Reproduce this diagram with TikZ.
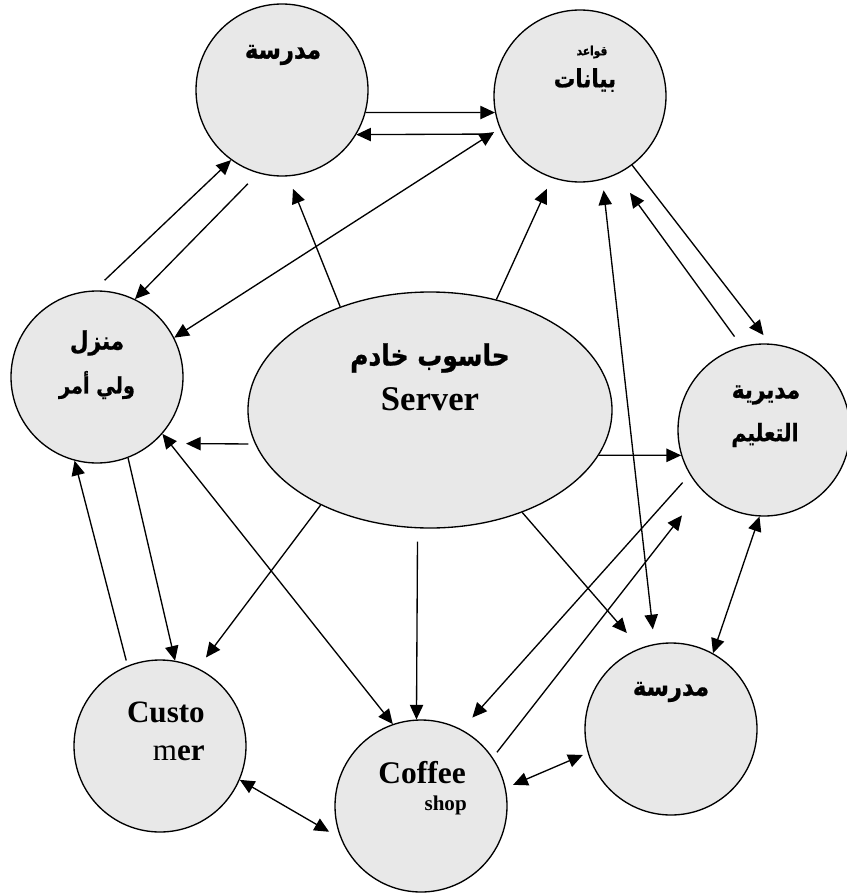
\documentclass[tikz,border=0pt]{standalone}
\usepackage{fontspec}
\setmainfont{Liberation Serif}
\newfontfamily\arabicfont[Script=Arabic, FakeStretch=0.85, BoldFeatures={FakeBold=0.8}]{DejaVu Sans}
\TeXXeTstate=1
\usetikzlibrary{arrows.meta,shapes.geometric}
\definecolor{bubblegray}{RGB}{232,232,232}

\tikzset{
  bubble/.style={circle, draw, line width=1pt, fill=bubblegray,
    minimum size=129pt, inner sep=0pt},
  hub/.style={ellipse, draw, line width=1pt, fill=bubblegray,
    minimum width=273pt, minimum height=177pt, inner sep=0pt},
  tip/.tip={Triangle[length=11pt,width=10pt]},
  arr/.style={line width=1pt, -tip},
  dbl/.style={line width=1pt, tip-tip},
  ar/.style={inner sep=0pt},
  lat/.style={inner sep=0pt},
}

\begin{document}
\begin{tikzpicture}[x=0.75pt, y=-0.75pt]
\useasboundingbox (0,0) rectangle (846,895);

% bubbles
\node[bubble] (tl)   at (282,90)  {};
\node[bubble] (db)   at (580,96)  {};
\node[bubble] (home) at (97,377)  {};
\node[hub]    (srv)  at (430,410) {};
\node[bubble] (edu)  at (764,430) {};
\node[bubble] (cust) at (160,746) {};
\node[bubble] (cof)  at (421,806) {};
\node[bubble] (br)   at (671,729) {};

% labels
\node[ar, font=\arabicfont\bfseries\fontsize{20}{24}\selectfont] (tlA) at (283,55) {\beginR مدرسة\endR};
\node[ar, font=\arabicfont\bfseries\fontsize{9.4}{11}\selectfont] (dbA) at (592,52) {\beginR قواعد\endR};
\node[ar, font=\arabicfont\bfseries\fontsize{18.9}{22}\selectfont] (dbB) at (585,80) {\beginR بيانات\endR};
\node[ar, font=\arabicfont\bfseries\fontsize{19}{23}\selectfont] (homeA) at (97,343) {\beginR منزل\endR};
\node[ar, font=\arabicfont\bfseries\fontsize{17}{21}\selectfont] (homeB) at (97,385) {\beginR ولي أمر\endR};
\node[ar, font=\arabicfont\bfseries\fontsize{22}{26}\selectfont] (srvA) at (430,358) {\beginR حاسوب خادم\endR};
\node[lat, font=\bfseries\fontsize{26}{30}\selectfont, anchor=base] (srvB) at (430,410) {Server};
\node[ar, font=\arabicfont\bfseries\fontsize{19}{23}\selectfont] (eduA) at (766,395) {\beginR مديرية\endR};
\node[ar, font=\arabicfont\bfseries\fontsize{18}{22}\selectfont] (eduB) at (765,435) {\beginR التعليم\endR};
\node[lat, font=\bfseries\fontsize{23.3}{27}\selectfont, anchor=base east] (custA) at (205,722) {Custo};
\node[lat, font=\fontsize{23.3}{27}\selectfont, anchor=base east] (custB) at (205,760) {m\textbf{er}};
\node[lat, font=\bfseries\fontsize{23.6}{27}\selectfont, anchor=base east] (cofA) at (466,783) {Coffee};
\node[lat, font=\bfseries\fontsize{15.8}{19}\selectfont, anchor=base east] (cofB) at (467,810) {shop};
\node[ar, font=\arabicfont\bfseries\fontsize{20}{24}\selectfont] (brA) at (671,692) {\beginR مدرسة\endR};

% connectors around the upper school and the database
\draw[arr] (tl.-15) -- (db.191);
\draw[arr, shorten <=7pt] (db.206) -- (tl.-31);
\draw[dbl, shorten >=5pt] (home.27) -- (db.202);
\draw[arr, shorten <=11pt] (home.92) -- (tl.234);
\draw[arr, shorten <=11pt] (tl.254) -- (home.64);

% connectors leaving the server
\draw[arr, shorten >=10pt] (srv.131) -- (tl.-86);
\draw[arr, shorten >=9pt] (srv.59) -- (db.251);
\draw[arr, shorten <=5pt, shorten >=25pt] (srv.191) -- (home.-50);
\draw[arr, shorten >=10pt] (srv.221) -- (cust.64);
\draw[arr, shorten <=10pt] (srv.264) -- (cof.93);
\draw[arr, shorten >=15pt] (srv.-48) -- (br.111);
\draw[arr] (srv.-15) -- (edu.197);

% connectors on the right side
\draw[arr, shorten >=8pt] (db.-53) -- (edu.86);
\draw[arr, shorten <=9pt, shorten >=17pt] (edu.105) -- (db.-65);
\draw[dbl, shorten <=8pt, shorten >=11pt] (db.-75) -- (br.101);
\draw[dbl] (edu.267) -- (br.61);
\draw[arr, shorten <=8pt, shorten >=12pt] (edu.211) -- (cof.62);
\draw[arr, shorten <=5pt, shorten >=24pt] (cof.34) -- (edu.224);
\draw[dbl, shorten <=6pt, shorten >=4pt] (cof.12) -- (br.196);

% connectors on the left side
\draw[dbl] (home.-41) -- (cof.109);
\draw[dbl, shorten >=10pt] (cust.-23) -- (cof.202);
\draw[arr] (home.-69) -- (cust.80);
\draw[arr, shorten <=4pt] (cust.112) -- (home.255);
\end{tikzpicture}
\end{document}
